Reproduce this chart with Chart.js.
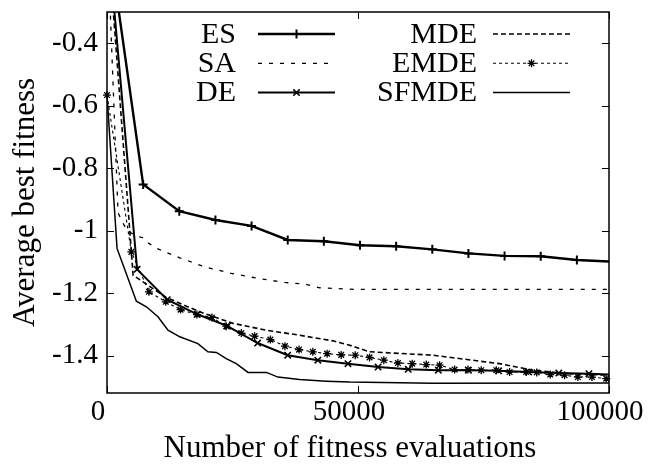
<!DOCTYPE html>
<html>
<head>
<meta charset="utf-8">
<script src="https://cdn.jsdelivr.net/npm/chart.js@4.4.1/dist/chart.umd.min.js"></script>
<style>
  html, body { margin: 0; padding: 0; background: #fff; }
  #wrap { width: 649px; height: 471px; }
</style>
</head>
<body>
<div id="wrap"><canvas id="c" width="649" height="471"></canvas></div>
<script>
// Average best fitness vs. number of fitness evaluations for six optimisers.
const esEvals = [0, 7200, 14400, 21600, 28800, 36000, 43200, 50400, 57600, 64800, 72000, 79200, 86400, 93600, 100000];
const esFitness = [-0.03, -0.852, -0.938, -0.966, -0.985, -1.030, -1.034, -1.047, -1.050, -1.060, -1.073, -1.081, -1.082, -1.094, -1.099];

const saEvals = [0, 2200, 3000, 3900, 5850, 7050, 8350, 9850, 14500, 19450, 24750, 30050, 35400, 39350, 42350, 49300, 100000];
const saFitness = [-0.03, -0.943, -0.970, -0.998, -1.018, -1.022, -1.041, -1.057, -1.087, -1.116, -1.137, -1.153, -1.166, -1.171, -1.183, -1.188, -1.188];

const deEvals = [0, 6000, 12000, 18000, 24000, 30000, 36000, 42000, 48000, 54000, 60000, 66000, 72000, 78000, 84000, 90000, 96000, 100000];
const deFitness = [-0.03, -1.124, -1.221, -1.268, -1.306, -1.360, -1.399, -1.415, -1.426, -1.437, -1.444, -1.447, -1.447, -1.449, -1.453, -1.456, -1.458, -1.461];

const mdeEvals = [0, 5200, 11800, 18450, 25100, 31750, 38350, 45000, 48350, 52300, 64900, 78200, 84800, 91450, 100000];
const mdeFitness = [-0.03, -1.143, -1.214, -1.260, -1.297, -1.319, -1.335, -1.353, -1.367, -1.388, -1.399, -1.426, -1.447, -1.458, -1.463];

const emdeEvals = [0, 4850, 8350, 11700, 14650, 17900, 20900, 23750, 26750, 29400, 32550, 35450, 38250, 41000, 43850, 46650, 49450, 52300, 55150, 57950, 60800, 63600, 66250, 69250, 71900, 74550, 77550, 80200, 83500, 85600, 88300, 91150, 93800, 96600, 99450];
const emdeFitness = [-0.566, -1.068, -1.196, -1.228, -1.253, -1.269, -1.278, -1.306, -1.328, -1.338, -1.349, -1.370, -1.381, -1.388, -1.394, -1.398, -1.399, -1.406, -1.415, -1.424, -1.426, -1.429, -1.431, -1.445, -1.445, -1.447, -1.447, -1.453, -1.453, -1.454, -1.461, -1.463, -1.469, -1.469, -1.474];

const sfmdeEvals = [0, 2000, 5850, 7850, 10150, 12150, 14500, 18100, 20100, 21800, 23750, 25750, 28100, 31750, 34050, 38350, 43700, 48350, 64850, 100000];
const sfmdeFitness = [-0.566, -1.057, -1.226, -1.244, -1.276, -1.319, -1.340, -1.362, -1.388, -1.390, -1.410, -1.426, -1.454, -1.454, -1.469, -1.477, -1.482, -1.485, -1.489, -1.488];

const yTickValues = [-1.4, -1.2, -1.0, -0.8, -0.6, -0.4];
const xTickValues = [0, 50000, 100000];

const seriesNames = ['ES', 'SA', 'DE', 'MDE', 'EMDE', 'SFMDE'];
const xAxisTitle = 'Number of fitness evaluations';
const yAxisTitle = 'Average best fitness';

const FONT = 'Liberation Serif';

function pairs(xs, ys) { return xs.map((v, i) => ({ x: v, y: ys[i] })); }

// hide the marker on the first and last sample of a series
function innerMarkers(r, n) {
  return ctx => (ctx.dataIndex === 0 || ctx.dataIndex === n - 1) ? 0 : r;
}

const datasets = [
  { label: seriesNames[0], data: pairs(esEvals, esFitness), borderWidth: 2.4, borderDash: [],
    pointStyle: 'cross', pointRadius: innerMarkers(4.5, esEvals.length), pointBorderWidth: 2 },
  { label: seriesNames[1], data: pairs(saEvals, saFitness), borderWidth: 1.3, borderDash: [4, 7],
    pointStyle: 'circle', pointRadius: 0, pointBorderWidth: 0 },
  { label: seriesNames[2], data: pairs(deEvals, deFitness), borderWidth: 2.0, borderDash: [],
    pointStyle: 'crossRot', pointRadius: innerMarkers(4.5, deEvals.length), pointBorderWidth: 1.6 },
  { label: seriesNames[3], data: pairs(mdeEvals, mdeFitness), borderWidth: 1.6, borderDash: [5, 3],
    pointStyle: 'circle', pointRadius: 0, pointBorderWidth: 0 },
  { label: seriesNames[4], data: pairs(emdeEvals, emdeFitness), borderWidth: 1.1, borderDash: [3, 3],
    pointStyle: 'star', pointRadius: 4, pointBorderWidth: 1.3,
    clip: { left: 8, top: 0, right: 3, bottom: 0 } },
  { label: seriesNames[5], data: pairs(sfmdeEvals, sfmdeFitness), borderWidth: 1.5, borderDash: [],
    pointStyle: 'circle', pointRadius: 0, pointBorderWidth: 0 }
].map(d => Object.assign({
  borderColor: '#000', backgroundColor: '#000',
  pointBorderColor: '#000', pointBackgroundColor: '#000',
  showLine: true, tension: 0, fill: false, pointHoverRadius: 0
}, d));

// plot frame with inward tick marks on all four sides, the key and the x-axis title
const framePlugin = {
  id: 'frame',
  afterDatasetsDraw(chart) {
    const { ctx, chartArea: a, scales: { x, y } } = chart;
    ctx.save();
    ctx.strokeStyle = '#000';
    ctx.setLineDash([]);
    ctx.lineWidth = 1.5;
    ctx.strokeRect(a.left, a.top, a.right - a.left, a.bottom - a.top);

    ctx.lineWidth = 1;
    const L = 7;
    ctx.beginPath();
    y.ticks.forEach(t => {
      const py = Math.round(y.getPixelForValue(t.value)) + 0.5;
      ctx.moveTo(a.left, py); ctx.lineTo(a.left + L, py);
      ctx.moveTo(a.right, py); ctx.lineTo(a.right - L, py);
    });
    x.ticks.forEach(t => {
      const px = Math.round(x.getPixelForValue(t.value)) + 0.5;
      ctx.moveTo(px, a.bottom); ctx.lineTo(px, a.bottom - L);
      ctx.moveTo(px, a.top); ctx.lineTo(px, a.top + L);
    });
    ctx.stroke();

    // key: two columns of three entries, name right-aligned before the sample line
    const textRight = [236, 477];
    const lineSpan = [[258, 335], [493, 570]];
    const rowY = [34, 63.3, 92.6];
    ctx.font = '30px "' + FONT + '"';
    ctx.textAlign = 'right';
    ctx.textBaseline = 'middle';
    ctx.fillStyle = '#000';
    chart.data.datasets.forEach((ds, i) => {
      const col = i < 3 ? 0 : 1, row = i % 3;
      const yy = rowY[row];
      ctx.fillText(ds.label, textRight[col], yy + 1);
      const [x0, x1] = lineSpan[col];
      ctx.save();
      ctx.lineWidth = ds.borderWidth;
      ctx.setLineDash(ds.borderDash || []);
      ctx.beginPath();
      ctx.moveTo(x0, yy); ctx.lineTo(x1, yy);
      ctx.stroke();
      ctx.restore();
      const r = typeof ds.pointRadius === 'function' ? 4.5 : ds.pointRadius;
      if (r > 0) {
        ctx.save();
        ctx.setLineDash([]);
        ctx.lineWidth = ds.pointBorderWidth;
        Chart.helpers.drawPoint(ctx, {
          pointStyle: ds.pointStyle, radius: r, borderWidth: ds.pointBorderWidth, rotation: 0
        }, (x0 + x1) / 2, yy);
        ctx.restore();
      }
    });

    // x-axis title, set a little left of the plot centre
    ctx.font = '31px "' + FONT + '"';
    ctx.textAlign = 'center';
    ctx.textBaseline = 'alphabetic';
    ctx.fillText(xAxisTitle, (a.left + a.right) / 2 - 8, 457);
    ctx.restore();
  }
};

new Chart(document.getElementById('c'), {
  type: 'scatter',
  data: { datasets },
  options: {
    responsive: false,
    animation: false,
    devicePixelRatio: 1,
    layout: { padding: { top: 12, right: 40, left: 0, bottom: 0 } },
    plugins: { legend: { display: false }, tooltip: { enabled: false } },
    scales: {
      x: {
        type: 'linear', min: 0, max: 100000,
        afterBuildTicks: s => { s.ticks = xTickValues.map(v => ({ value: v })); },
        afterFit: s => { s.height = 78; s.paddingLeft = 0; s.paddingRight = 0; },
        grid: { display: false, drawTicks: false },
        border: { display: false },
        ticks: { padding: 2, labelOffset: -9, color: '#000', maxRotation: 0, autoSkip: false,
                 font: { family: FONT, size: 29 }, callback: v => String(v) },
        title: { display: false }
      },
      y: {
        type: 'linear', min: -1.52, max: -0.3,
        afterBuildTicks: s => { s.ticks = yTickValues.map(v => ({ value: v })); },
        afterFit: s => { s.width = 107; s.paddingTop = 0; s.paddingBottom = 0; },
        grid: { display: false, drawTicks: false },
        border: { display: false },
        ticks: { padding: 9, color: '#000', font: { family: FONT, size: 29 },
                 callback: v => String(parseFloat(Number(v).toFixed(1))) },
        title: { display: true, text: yAxisTitle, color: '#000',
                 font: { family: FONT, size: 31, lineHeight: 1 }, padding: { top: 10, bottom: 0 } }
      }
    }
  },
  plugins: [framePlugin]
});
</script>
</body>
</html>
